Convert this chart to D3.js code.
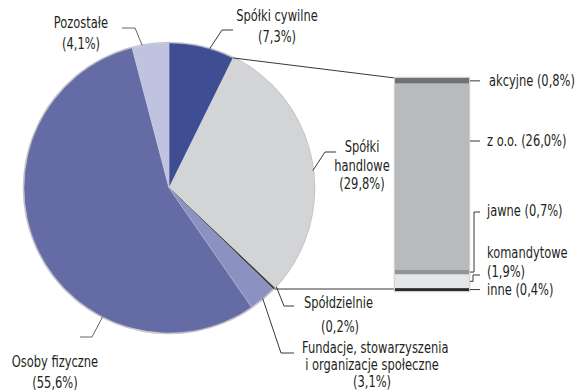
<!DOCTYPE html>
<html>
<head>
<meta charset="utf-8">
<script src="https://cdn.jsdelivr.net/npm/d3@7"></script>
<style>
  html, body { margin: 0; padding: 0; background: #fff; }
  svg { display: block; }
  text { font-family: "DejaVu Sans Condensed", "Liberation Sans Narrow", "Arial Narrow", sans-serif; font-size: 15px; fill: #231f20; }
</style>
</head>
<body>
<svg id="chart" width="587" height="390"></svg>
<script>
// Main breakdown (share of entities, %)
const categories = ["Spółki cywilne", "Spółki handlowe", "Spółdzielnie", "Fundacje, stowarzyszenia i organizacje społeczne", "Osoby fizyczne", "Pozostałe"];
const values = [7.3, 29.8, 0.2, 3.1, 55.6, 4.1];
const valueLabels = ["7,3%", "29,8%", "0,2%", "3,1%", "55,6%", "4,1%"];
const colors = ["#3f4e92", "#d3d4d6", "#3a3a3c", "#8b91c1", "#656ca5", "#bfc3e0"];

// Commercial companies split (stacked column)
const subCategories = ["akcyjne", "z o.o.", "jawne", "komandytowe", "inne"];
const subValues = [0.8, 26.0, 0.7, 1.9, 0.4];
const subLabels = ["0,8%", "26,0%", "0,7%", "1,9%", "0,4%"];
const subColors = ["#707174", "#b9babd", "#939497", "#e5e6e7", "#2b2a2b"];

const svg = d3.select("#chart");
const cx = 169, cy = 188, R = 145;
const SX = 0.85; // horizontal squeeze for a condensed look

const pie = d3.pie().sort(null).value(d => d)(values);
const arc = d3.arc().innerRadius(0).outerRadius(R);

const g = svg.append("g").attr("transform", `translate(${cx},${cy})`);

// soft rim under the pie
g.append("circle").attr("r", R + 0.6).attr("fill", "none")
  .attr("stroke", "#b8b8ba").attr("stroke-width", 1.4).attr("opacity", 0.8);

g.selectAll("path.slice").data(pie).join("path")
  .attr("class", "slice")
  .attr("d", arc)
  .attr("fill", (d, i) => colors[i])
  .attr("stroke", (d, i) => i === 2 ? "#3a3a3c" : "#c9cad6")
  .attr("stroke-width", (d, i) => i === 2 ? 0.8 : 0.4);

// point on the pie rim at a given fraction through a slice
function rim(i, f, r = R) {
  const a = pie[i].startAngle + (pie[i].endAngle - pie[i].startAngle) * f;
  return [cx + r * Math.sin(a), cy - r * Math.cos(a)];
}

const line = d3.line();
function leader(points, color = "#231f20") {
  svg.append("path").attr("d", line(points)).attr("fill", "none")
    .attr("stroke", color).attr("stroke-width", 0.9);
}

// multi-line label; baselines given explicitly
function label(lines, x, baselines, anchor) {
  const t = svg.append("text").attr("text-anchor", anchor)
    .attr("transform", `translate(${x},0) scale(${SX},1)`);
  lines.forEach((s, k) => t.append("tspan").attr("x", 0).attr("y", baselines[k]).text(s));
}

// ---- stacked column for commercial companies ----
const bx0 = 395, bx1 = 469, by0 = 78, by1 = 291;
const yBar = d3.scaleLinear().domain([0, d3.sum(subValues)]).range([by0, by1]);
const cum = d3.cumsum(subValues);
const segs = subValues.map((v, i) => ({ v, i, y0: cum[i] - v, y1: cum[i] }));

// connectors from the slice edges to the column
const hStart = rim(1, 0), hEnd = rim(1, 1);
leader([hStart, [bx0, by0]]);
leader([[hEnd[0], by1 - 2], [bx0, by1 - 2]]);

svg.append("rect").attr("x", bx0 - 0.5).attr("y", by0 - 0.5)
  .attr("width", bx1 - bx0 + 1).attr("height", by1 - by0 + 1)
  .attr("fill", "none").attr("stroke", "#d0d1d3").attr("stroke-width", 1.5);

svg.selectAll("rect.seg").data(segs).join("rect")
  .attr("class", "seg")
  .attr("x", bx0).attr("width", bx1 - bx0)
  .attr("y", d => yBar(d.y0))
  .attr("height", d => yBar(d.y1) - yBar(d.y0))
  .attr("fill", d => subColors[d.i]);

// column labels
const mid = i => (yBar(segs[i].y0) + yBar(segs[i].y1)) / 2;
leader([[bx1 + 1, mid(0)], [bx1 + 11, mid(0)]]);
label([`${subCategories[0]} (${subLabels[0]})`], 489, [86], "start");

leader([[bx1 + 1, 141], [bx1 + 11, 141]]);
label([`${subCategories[1]} (${subLabels[1]})`], 487, [146], "start");

leader([[bx1 + 1, mid(2)], [bx1 + 5, mid(2)], [bx1 + 5, 212], [bx1 + 11, 212]]);
label([`${subCategories[2]} (${subLabels[2]})`], 487, [216], "start");

leader([[bx1 + 1, mid(3)], [bx1 + 4, mid(3)], [bx1 + 4, 275], [bx1 + 11, 275]]);
label([subCategories[3], `(${subLabels[3]})`], 487, [258, 277], "start");

leader([[bx1 + 1, mid(4)], [bx1 + 11, mid(4)]]);
label([`${subCategories[4]} (${subLabels[4]})`], 487, [295], "start");

// ---- pie labels ----
// Spółki cywilne
leader([rim(0, 0.62), [222, 30], [233, 30]]);
label([categories[0], `(${valueLabels[0]})`], 277, [21, 42], "middle");

// Spółki handlowe
leader([rim(1, 0.53), [325, 152], [336, 152]]);
label(["Spółki", "handlowe", `(${valueLabels[1]})`], 362, [152, 171, 189], "middle");

// Spółdzielnie
leader([[hEnd[0] + 2, hEnd[1] - 1], [284, 306], [294, 306]]);
label([categories[2]], 304, [308], "start");
label([`(${valueLabels[2]})`], 340, [332], "middle");

// Fundacje
leader([rim(3, 0.5), [281, 353], [294, 353]]);
label(["Fundacje, stowarzyszenia"], 302, [353], "start");
label(["i organizacje społeczne", `(${valueLabels[3]})`], 372, [370, 387], "middle");

// Osoby fizyczne
leader([rim(4, 0.31), [92, 337], [80, 337]], "#555");
label([categories[4], `(${valueLabels[4]})`], 55, [367, 388], "middle");

// Pozostałe
leader([rim(5, 0.28), [135, 28], [122, 28]], "#555");
label([categories[5], `(${valueLabels[5]})`], 81, [28, 49], "middle");
</script>
</body>
</html>
